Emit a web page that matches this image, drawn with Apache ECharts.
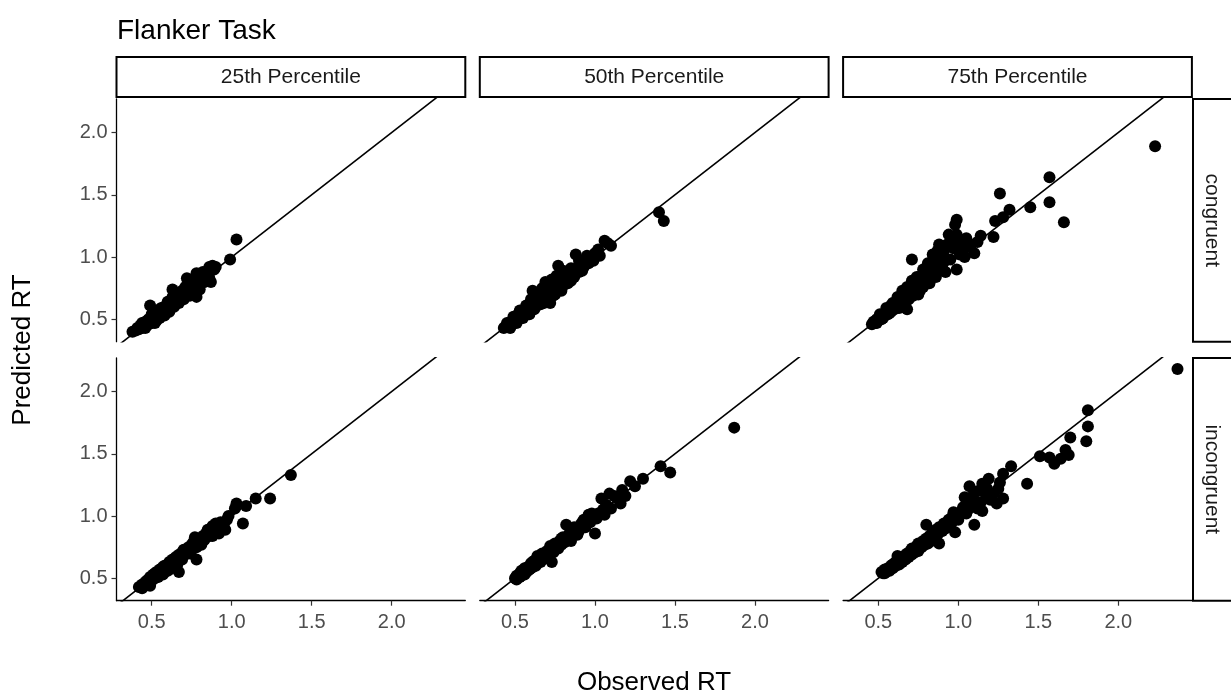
<!DOCTYPE html>
<html>
<head>
<meta charset="utf-8">
<script src="https://cdn.jsdelivr.net/npm/echarts@6/dist/echarts.min.js"></script>
<style>
  html, body { margin: 0; padding: 0; background: #fff; }
  #chart { width: 1231px; height: 698px; }
</style>
</head>
<body>
<div id="chart"></div>
<script>
// Facet labels
const percentiles = ['25th Percentile', '50th Percentile', '75th Percentile'];
const conditions = ['congruent', 'incongruent'];
const tickValues = [0.5, 1.0, 1.5, 2.0];
const xRange = [0.28, 2.46];
const yRange = [0.32, 2.27];
const identityLine = [[0, 0], [3, 3]];

// [observed RT, predicted RT] per participant
const p25Congruent = [
  [0.38,0.40],[0.40,0.41],[0.41,0.43],[0.42,0.42],[0.43,0.45],[0.44,0.43],[0.45,0.46],[0.45,0.44],
  [0.46,0.48],[0.47,0.45],[0.47,0.47],[0.48,0.50],[0.48,0.46],[0.49,0.61],[0.49,0.48],[0.50,0.51],
  [0.50,0.47],[0.51,0.49],[0.51,0.53],[0.52,0.50],[0.52,0.55],[0.53,0.52],[0.53,0.49],[0.54,0.56],
  [0.54,0.53],[0.55,0.51],[0.55,0.58],[0.56,0.54],[0.57,0.56],[0.57,0.53],[0.58,0.60],[0.58,0.57],
  [0.59,0.55],[0.60,0.62],[0.60,0.58],[0.61,0.60],[0.62,0.65],[0.62,0.59],[0.63,0.74],[0.63,0.62],
  [0.64,0.66],[0.65,0.63],[0.65,0.69],[0.66,0.65],[0.67,0.68],[0.68,0.66],[0.68,0.71],[0.69,0.69],
  [0.70,0.72],[0.71,0.68],[0.72,0.83],[0.72,0.74],[0.73,0.71],[0.74,0.76],[0.75,0.73],[0.76,0.78],
  [0.77,0.75],[0.78,0.87],[0.78,0.79],[0.78,0.68],[0.79,0.81],[0.80,0.77],[0.81,0.83],[0.82,0.85],
  [0.83,0.80],[0.84,0.88],[0.85,0.86],[0.86,0.92],[0.87,0.80],[0.87,0.89],[0.88,0.93],[0.89,0.90],
  [0.90,0.92],[0.99,0.98],[1.03,1.14],
  [0.44,0.47],[0.46,0.43],[0.50,0.54],[0.52,0.47],[0.55,0.55],[0.56,0.59],[0.58,0.53],[0.60,0.64],
  [0.61,0.56],[0.63,0.68],[0.64,0.60],[0.66,0.70],[0.67,0.63],[0.69,0.73],[0.70,0.66],[0.71,0.76],
  [0.73,0.78],[0.74,0.69],[0.76,0.80],[0.77,0.72],[0.79,0.84],[0.80,0.74],[0.82,0.88],[0.84,0.82],
  [0.86,0.83]
];
const p50Congruent = [
  [0.43,0.43],[0.44,0.44],[0.45,0.45],[0.46,0.44],[0.46,0.47],[0.47,0.46],[0.48,0.48],[0.49,0.47],
  [0.50,0.50],[0.50,0.48],[0.51,0.52],[0.52,0.50],[0.52,0.54],[0.53,0.52],[0.54,0.56],[0.54,0.51],
  [0.55,0.55],[0.56,0.58],[0.56,0.53],[0.57,0.57],[0.58,0.60],[0.58,0.55],[0.59,0.59],[0.60,0.62],
  [0.60,0.57],[0.61,0.73],[0.61,0.61],[0.62,0.64],[0.63,0.60],[0.63,0.66],[0.64,0.63],[0.65,0.68],
  [0.65,0.62],[0.66,0.66],[0.67,0.70],[0.67,0.64],[0.68,0.68],[0.69,0.80],[0.69,0.72],[0.70,0.66],
  [0.70,0.70],[0.71,0.74],[0.72,0.63],[0.72,0.71],[0.73,0.77],[0.74,0.73],[0.75,0.79],[0.75,0.70],
  [0.76,0.85],[0.77,0.93],[0.77,0.76],[0.78,0.81],[0.79,0.77],[0.80,0.89],[0.80,0.82],[0.81,0.78],
  [0.82,0.86],[0.83,0.83],[0.84,0.88],[0.85,0.81],[0.86,0.86],[0.88,1.02],[0.88,0.90],[0.90,0.88],
  [0.91,0.95],[0.93,0.92],[0.94,0.98],[0.96,0.95],[0.98,1.00],[0.99,0.97],[1.02,1.06],[1.06,1.13],
  [1.08,1.11],[1.10,1.09],[1.40,1.36],[1.43,1.29],
  [0.45,0.47],[0.47,0.43],[0.49,0.52],[0.51,0.47],[0.53,0.57],[0.55,0.51],[0.57,0.61],[0.59,0.54],
  [0.60,0.66],[0.62,0.58],[0.64,0.70],[0.66,0.62],[0.67,0.75],[0.68,0.63],[0.70,0.77],[0.71,0.67],
  [0.73,0.82],[0.74,0.69],[0.76,0.74],[0.78,0.86],[0.79,0.73],[0.81,0.88],[0.83,0.79],[0.85,0.91],
  [0.87,0.84],[0.90,0.97],[0.92,0.89],[0.95,1.01],[1.00,1.03],[1.03,1.01]
];
const p75Congruent = [
  [0.46,0.46],[0.47,0.48],[0.48,0.47],[0.49,0.50],[0.50,0.49],[0.51,0.52],[0.52,0.50],[0.53,0.54],
  [0.54,0.53],[0.55,0.56],[0.56,0.54],[0.57,0.58],[0.58,0.61],[0.58,0.56],[0.59,0.60],[0.60,0.63],
  [0.61,0.59],[0.62,0.65],[0.63,0.62],[0.64,0.68],[0.64,0.64],[0.65,0.70],[0.66,0.66],[0.67,0.72],
  [0.67,0.63],[0.68,0.58],[0.68,0.70],[0.69,0.75],[0.70,0.68],[0.71,0.98],[0.71,0.77],[0.72,0.72],
  [0.73,0.79],[0.74,0.74],[0.75,0.82],[0.75,0.70],[0.76,0.78],[0.77,0.85],[0.78,0.76],[0.79,0.88],
  [0.80,0.81],[0.81,0.91],[0.82,0.79],[0.83,0.86],[0.84,1.02],[0.85,0.93],[0.86,0.84],[0.87,0.97],
  [0.88,1.10],[0.88,0.90],[0.90,0.94],[0.91,1.05],[0.92,0.88],[0.94,1.18],[0.95,0.98],[0.97,1.07],
  [0.98,1.26],[0.99,1.30],[0.99,1.18],[0.99,0.90],[1.01,1.02],[1.04,1.00],[1.06,1.08],[1.08,1.10],
  [1.10,1.03],[1.14,1.17],[1.22,1.16],[1.23,1.29],[1.26,1.51],[1.28,1.32],[1.32,1.38],[1.45,1.40],
  [1.57,1.64],[1.57,1.44],[1.66,1.28],[2.23,1.89],
  [0.49,0.47],[0.51,0.54],[0.53,0.51],[0.55,0.59],[0.57,0.55],[0.59,0.63],[0.60,0.58],[0.62,0.68],
  [0.63,0.59],[0.65,0.73],[0.66,0.62],[0.68,0.76],[0.69,0.66],[0.71,0.81],[0.72,0.69],[0.74,0.84],
  [0.76,0.73],[0.78,0.90],[0.79,0.78],[0.81,0.95],[0.82,0.84],[0.84,0.97],[0.86,0.92],[0.87,1.05],
  [0.89,0.98],[0.90,1.02],[0.93,1.10],[0.96,1.13],[1.00,1.12],[1.02,1.08],[1.05,1.15],[1.12,1.12]
];
const p25Incongruent = [
  [0.42,0.43],[0.44,0.45],[0.45,0.44],[0.46,0.47],[0.47,0.45],[0.48,0.49],[0.49,0.44],[0.49,0.51],
  [0.50,0.48],[0.51,0.53],[0.52,0.50],[0.53,0.55],[0.53,0.51],[0.54,0.54],[0.55,0.57],[0.56,0.53],
  [0.57,0.56],[0.57,0.59],[0.58,0.55],[0.59,0.58],[0.60,0.61],[0.61,0.57],[0.61,0.63],[0.62,0.60],
  [0.63,0.65],[0.64,0.62],[0.65,0.67],[0.66,0.61],[0.66,0.65],[0.67,0.55],[0.67,0.69],[0.68,0.66],
  [0.69,0.71],[0.70,0.68],[0.71,0.73],[0.72,0.70],[0.73,0.75],[0.74,0.72],[0.75,0.77],[0.76,0.74],
  [0.77,0.83],[0.77,0.78],[0.78,0.65],[0.79,0.79],[0.80,0.81],[0.81,0.77],[0.82,0.84],[0.83,0.81],
  [0.84,0.86],[0.86,0.84],[0.87,0.88],[0.88,0.92],[0.89,0.86],[0.91,0.91],[0.92,0.86],[0.93,0.95],
  [0.95,0.93],[0.96,0.89],[0.97,0.97],[1.02,1.06],[1.03,1.10],[1.07,0.94],[1.09,1.08],[1.15,1.14],
  [1.24,1.14],[1.37,1.33],
  [0.44,0.42],[0.47,0.48],[0.49,0.47],[0.51,0.50],[0.52,0.54],[0.54,0.51],[0.55,0.53],[0.57,0.53],
  [0.58,0.60],[0.60,0.56],[0.62,0.63],[0.63,0.59],[0.65,0.64],[0.67,0.66],[0.69,0.65],[0.70,0.73],
  [0.72,0.73],[0.74,0.70],[0.76,0.79],[0.78,0.75],[0.80,0.78],[0.82,0.80],[0.85,0.89],[0.88,0.84],
  [0.90,0.94],[0.94,0.90],[0.98,1.00]
];
const p50Incongruent = [
  [0.50,0.50],[0.51,0.52],[0.52,0.51],[0.53,0.54],[0.54,0.52],[0.55,0.56],[0.56,0.53],[0.56,0.58],
  [0.57,0.55],[0.58,0.59],[0.59,0.57],[0.60,0.62],[0.61,0.59],[0.62,0.64],[0.63,0.61],[0.64,0.66],
  [0.65,0.63],[0.66,0.68],[0.67,0.65],[0.68,0.70],[0.69,0.66],[0.70,0.72],[0.71,0.69],[0.72,0.74],
  [0.73,0.63],[0.73,0.71],[0.74,0.76],[0.75,0.73],[0.76,0.78],[0.77,0.74],[0.78,0.80],[0.79,0.77],
  [0.80,0.83],[0.81,0.79],[0.82,0.93],[0.83,0.82],[0.84,0.86],[0.85,0.80],[0.86,0.87],[0.88,0.89],
  [0.89,0.85],[0.91,0.93],[0.93,0.97],[0.94,0.91],[0.96,1.01],[0.97,0.95],[0.99,0.99],[1.00,0.86],
  [1.02,1.02],[1.04,1.14],[1.05,1.05],[1.07,1.09],[1.09,1.18],[1.10,1.06],[1.14,1.14],[1.16,1.10],
  [1.17,1.21],[1.22,1.28],[1.30,1.30],[1.41,1.40],[1.47,1.35],[1.87,1.71],
  [0.51,0.49],[0.53,0.51],[0.54,0.56],[0.56,0.55],[0.58,0.56],[0.60,0.58],[0.61,0.63],[0.63,0.60],
  [0.64,0.68],[0.66,0.63],[0.67,0.70],[0.69,0.68],[0.70,0.67],[0.72,0.76],[0.74,0.71],[0.75,0.78],
  [0.77,0.77],[0.79,0.82],[0.81,0.80],[0.84,0.82],[0.87,0.91],[0.90,0.88],[0.92,0.95],[0.95,0.96],
  [0.98,1.02],[1.01,0.98],[1.06,1.01],[1.12,1.16],[1.19,1.16],[1.25,1.24]
];
const p75Incongruent = [
  [0.52,0.55],[0.53,0.54],[0.54,0.57],[0.55,0.56],[0.56,0.58],[0.57,0.56],[0.58,0.60],[0.59,0.58],
  [0.60,0.62],[0.61,0.60],[0.62,0.64],[0.62,0.68],[0.63,0.61],[0.64,0.66],[0.65,0.63],[0.66,0.68],
  [0.67,0.65],[0.68,0.70],[0.69,0.67],[0.70,0.72],[0.71,0.69],[0.72,0.74],[0.73,0.71],[0.74,0.76],
  [0.75,0.72],[0.76,0.78],[0.77,0.75],[0.78,0.80],[0.79,0.77],[0.80,0.93],[0.80,0.82],[0.81,0.78],
  [0.82,0.84],[0.83,0.80],[0.84,0.87],[0.85,0.82],[0.86,0.89],[0.87,0.85],[0.88,0.78],[0.88,0.91],
  [0.90,0.88],[0.91,0.94],[0.92,0.90],[0.94,0.97],[0.95,0.92],[0.96,0.99],[0.98,0.87],[0.98,1.01],
  [1.00,0.97],[1.02,1.04],[1.04,1.15],[1.05,1.02],[1.07,1.24],[1.07,1.09],[1.10,0.93],[1.10,1.12],
  [1.12,1.06],[1.15,1.26],[1.15,1.04],[1.17,1.18],[1.19,1.30],[1.20,1.13],[1.24,1.10],[1.25,1.22],
  [1.28,1.34],[1.28,1.14],[1.33,1.40],[1.43,1.26],[1.51,1.48],[1.57,1.47],[1.60,1.42],[1.64,1.46],
  [1.67,1.53],[1.69,1.49],[1.70,1.63],[1.80,1.60],[1.81,1.72],[1.81,1.85],[2.37,2.18],
  [0.54,0.54],[0.56,0.56],[0.58,0.58],[0.59,0.61],[0.61,0.63],[0.63,0.65],[0.64,0.63],[0.66,0.65],
  [0.68,0.67],[0.70,0.70],[0.71,0.74],[0.73,0.74],[0.75,0.78],[0.76,0.75],[0.78,0.77],[0.80,0.79],
  [0.82,0.81],[0.84,0.85],[0.86,0.86],[0.88,0.87],[0.90,0.91],[0.92,0.94],[0.94,0.93],[0.96,0.95],
  [0.97,1.03],[1.00,1.01],[1.03,1.07],[1.06,1.05],[1.09,1.16],[1.12,1.20],[1.14,1.11],[1.18,1.22],
  [1.22,1.18],[1.26,1.27]
];

const panelData = [
  [p25Congruent, p50Congruent, p75Congruent],
  [p25Incongruent, p50Incongruent, p75Incongruent]
];

// Facet geometry (pixels)
const FONT = '"Liberation Sans", Arial, sans-serif';
const panelLeft = [116.5, 479.8, 843.1];
const panelW = 348.8;
const panelTop = [98.9, 357.9];
const panelH = 242.8;
const stripTop = 57, stripH = 40;
const rightStripLeft = 1193, rightStripW = 40;

const chart = echarts.init(document.getElementById('chart'), null, { renderer: 'canvas' });

const grids = [], xAxes = [], yAxes = [], series = [];
const fmt = v => v.toFixed(1);

for (let r = 0; r < 2; r++) {
  for (let c = 0; c < 3; c++) {
    const i = grids.length;
    grids.push({ left: panelLeft[c], top: panelTop[r], width: panelW, height: panelH });
    const showX = r === 1;
    const showY = c === 0;
    xAxes.push({
      type: 'value', gridIndex: i, min: xRange[0], max: xRange[1],
      axisLine: { show: showX, onZero: false, lineStyle: { color: '#000', width: 1.3 } },
      axisTick: { show: showX, length: 5, customValues: tickValues, lineStyle: { color: '#333', width: 1.2 } },
      axisLabel: { show: showX, customValues: tickValues, formatter: fmt, color: '#4D4D4D',
                   fontSize: 20, fontFamily: FONT, margin: 12 },
      splitLine: { show: false }
    });
    yAxes.push({
      type: 'value', gridIndex: i, min: yRange[0], max: yRange[1],
      axisLine: { show: showY, onZero: false, lineStyle: { color: '#000', width: 1.3 } },
      axisTick: { show: showY, length: 5, customValues: tickValues, lineStyle: { color: '#333', width: 1.2 } },
      axisLabel: { show: showY, customValues: tickValues, formatter: fmt, color: '#4D4D4D',
                   fontSize: 20, fontFamily: FONT, margin: 9 },
      splitLine: { show: false }
    });
    series.push({
      type: 'line', xAxisIndex: i, yAxisIndex: i, data: identityLine,
      symbol: 'none', clip: true, silent: true, z: 2,
      lineStyle: { color: '#000', width: 1.6 }
    });
    series.push({
      type: 'scatter', xAxisIndex: i, yAxisIndex: i, data: panelData[r][c],
      symbol: 'circle', symbolSize: 12, z: 3,
      itemStyle: { color: '#000', opacity: 1 }
    });
  }
}

// Strip labels and axis titles
const graphics = [];
percentiles.forEach((label, c) => {
  graphics.push({
    type: 'rect', silent: true,
    shape: { x: panelLeft[c], y: stripTop, width: panelW, height: stripH },
    style: { fill: '#fff', stroke: '#000', lineWidth: 2 }
  });
  graphics.push({
    type: 'text', silent: true,
    x: panelLeft[c] + panelW / 2, y: stripTop + stripH / 2,
    style: { text: label, fill: '#1A1A1A', font: '21px ' + FONT, align: 'center', verticalAlign: 'middle' }
  });
});
conditions.forEach((label, r) => {
  graphics.push({
    type: 'rect', silent: true,
    shape: { x: rightStripLeft, y: panelTop[r], width: rightStripW, height: panelH },
    style: { fill: '#fff', stroke: '#000', lineWidth: 2 }
  });
  graphics.push({
    type: 'text', silent: true,
    x: rightStripLeft + 19, y: panelTop[r] + panelH / 2, rotation: -Math.PI / 2,
    style: { text: label, fill: '#1A1A1A', font: '21px ' + FONT, align: 'center', verticalAlign: 'middle' }
  });
});
graphics.push({
  type: 'text', silent: true, x: 117, y: 31,
  style: { text: 'Flanker Task', fill: '#000', font: '28px ' + FONT, align: 'left', verticalAlign: 'middle' }
});
graphics.push({
  type: 'text', silent: true, x: 654, y: 683,
  style: { text: 'Observed RT', fill: '#000', font: '26px ' + FONT, align: 'center', verticalAlign: 'middle' }
});
graphics.push({
  type: 'text', silent: true, x: 23, y: 350, rotation: Math.PI / 2,
  style: { text: 'Predicted RT', fill: '#000', font: '26px ' + FONT, align: 'center', verticalAlign: 'middle' }
});

chart.setOption({
  animation: false,
  backgroundColor: '#fff',
  grid: grids,
  xAxis: xAxes,
  yAxis: yAxes,
  series: series,
  graphic: graphics
});
</script>
</body>
</html>
